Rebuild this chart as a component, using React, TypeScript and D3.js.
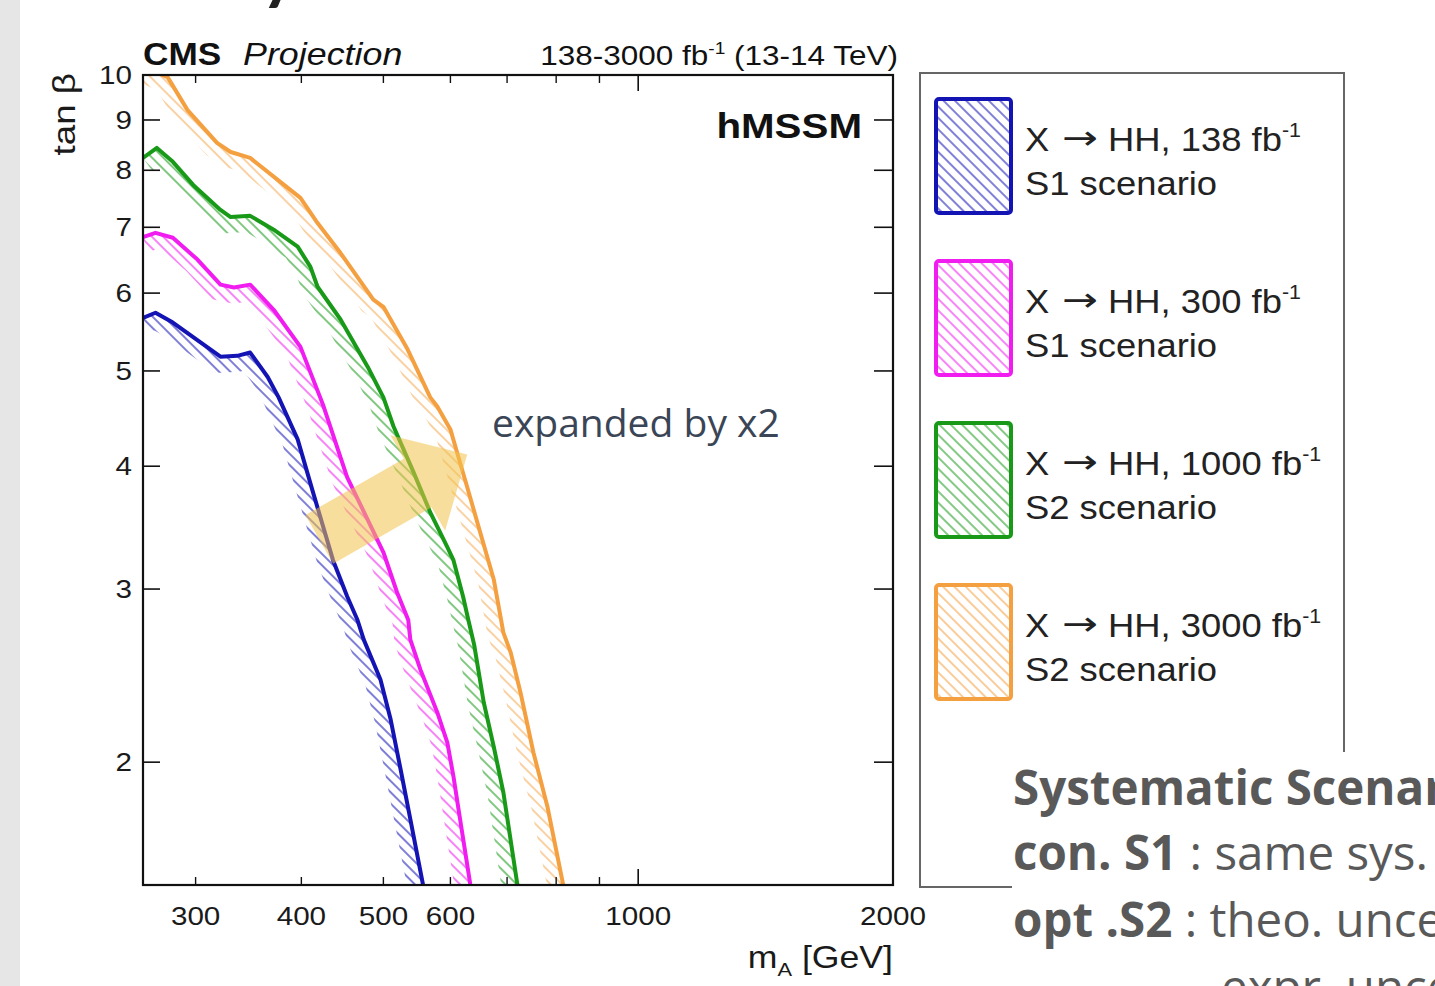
import React from "react";
import * as d3 from "d3";

// ---- data ----
const massTicksLabeled = [300, 400, 500, 600, 1000, 2000];
const massTicksMinor = [300, 400, 500, 600, 700, 800, 900];
const massTicksMajor = [1000];
const tanbTicks = [2, 3, 4, 5, 6, 7, 8, 9, 10];

const mA_138 = [260, 269, 282, 321, 336, 348, 365, 376, 396, 413, 436, 453, 466, 474, 496, 510, 524, 538, 557];
const tb_138 = [5.66, 5.73, 5.6, 5.17, 5.18, 5.22, 4.93, 4.7, 4.26, 3.76, 3.21, 2.95, 2.79, 2.665, 2.427, 2.21, 1.966, 1.75, 1.5];

const mA_300 = [260, 269, 282, 301.5, 321, 333, 348, 371, 399, 421, 425, 453, 479, 500, 519, 535, 538, 553, 579, 595, 605, 616, 633.5];
const tb_300 = [6.84, 6.91, 6.83, 6.49, 6.12, 6.08, 6.12, 5.77, 5.29, 4.7, 4.6, 3.9, 3.53, 3.27, 2.976, 2.79, 2.665, 2.484, 2.247, 2.094, 1.934, 1.75, 1.5];

const mA_1000 = [260, 270, 282, 298, 321, 330, 348, 371, 396, 410, 418, 445, 479, 500, 514, 543, 568, 595, 605, 621, 630, 640, 657, 675, 693, 720];
const tb_1000 = [8.235, 8.43, 8.16, 7.73, 7.29, 7.17, 7.19, 6.96, 6.69, 6.38, 6.09, 5.64, 5.05, 4.7, 4.39, 3.94, 3.59, 3.31, 3.21, 2.948, 2.79, 2.634, 2.3, 2.075, 1.863, 1.5];

const mA_3000 = [260, 278, 293.5, 318, 330, 348, 378, 399, 418, 445, 466, 486.5, 500, 534, 568, 579, 600, 611, 628, 651, 675, 693, 707, 726, 752, 781, 815.5];
const tb_3000 = [10.2, 9.95, 9.21, 8.53, 8.35, 8.235, 7.78, 7.5, 7.07, 6.59, 6.23, 5.91, 5.81, 5.26, 4.7, 4.6, 4.36, 4.13, 3.81, 3.42, 3.07, 2.709, 2.585, 2.355, 2.046, 1.804, 1.5];

const seriesLumi = ["138", "300", "1000", "3000"];
const seriesScenario = ["S1", "S1", "S2", "S2"];
const seriesColors = ["#1414b4", "#f01cf0", "#189a18", "#f4a040"];
const seriesMass = [mA_138, mA_300, mA_1000, mA_3000];
const seriesTanb = [tb_138, tb_300, tb_1000, tb_3000];

// annotation arrow (data coordinates of tail centre and tip)
const arrowTail = [420, 3.37];
const arrowTip = [628, 4.11];

// ---- layout ----
const W = 1435;
const H = 986;
const PL = 143, PR = 893, PT = 75, PB = 885;
const plotFont = "'Liberation Sans', Arial, Helvetica, sans-serif";
const SX = 1.14; // horizontal stretch of the reference's plot lettering

const x = d3.scaleLog().domain([260, 2000]).range([PL, PR]);
const y = d3.scaleLog().domain([1.5, 10]).range([PB, PT]);

function bandPolygon(pts: [number, number][], w: number): string {
  const n = pts.length;
  const segN: [number, number][] = [];
  for (let i = 0; i < n - 1; i++) {
    const dx = pts[i + 1][0] - pts[i][0];
    const dy = pts[i + 1][1] - pts[i][1];
    const l = Math.hypot(dx, dy) || 1;
    segN.push([-dy / l, dx / l]);
  }
  const off: [number, number][] = [];
  for (let i = 0; i < n; i++) {
    let m: [number, number];
    let ref: [number, number];
    if (i === 0) { m = segN[0]; ref = segN[0]; }
    else if (i === n - 1) { m = segN[n - 2]; ref = segN[n - 2]; }
    else {
      const a = segN[i - 1], b = segN[i];
      const sx = a[0] + b[0], sy = a[1] + b[1];
      const l = Math.hypot(sx, sy) || 1;
      m = [sx / l, sy / l];
      ref = b;
    }
    const d = Math.max(0.5, m[0] * ref[0] + m[1] * ref[1]);
    off.push([pts[i][0] + (m[0] * w) / d, pts[i][1] + (m[1] * w) / d]);
  }
  const all = pts.concat(off.reverse());
  return "M" + all.map((p) => p[0].toFixed(2) + "," + p[1].toFixed(2)).join("L") + "Z";
}

function arrowPolygon(): string {
  const t = [x(arrowTail[0]), y(arrowTail[1])];
  const h = [x(arrowTip[0]), y(arrowTip[1])];
  const dx = h[0] - t[0], dy = h[1] - t[1];
  const L = Math.hypot(dx, dy);
  const ux = dx / L, uy = dy / L;
  const px = -uy, py = ux;
  const sw = 28, hw = 55, hl = 57;
  const bx = h[0] - ux * hl, by = h[1] - uy * hl;
  const p = [
    [t[0] + px * sw, t[1] + py * sw],
    [bx + px * sw, by + py * sw],
    [bx + px * hw, by + py * hw],
    [h[0], h[1]],
    [bx - px * hw, by - py * hw],
    [bx - px * sw, by - py * sw],
    [t[0] - px * sw, t[1] - py * sw],
  ];
  return "M" + p.map((q) => q[0].toFixed(1) + "," + q[1].toFixed(1)).join("L") + "Z";
}

function SText(props: any) {
  const { x: tx, y: ty, sx = SX, rotate = 0, children, ...rest } = props;
  return (
    <text transform={`translate(${tx},${ty}) rotate(${rotate}) scale(${sx},1)`} fontFamily={plotFont} fill="#1a1a1a" {...rest}>
      {children}
    </text>
  );
}

export default function App() {
  const line = d3.line<[number, number]>().x((d) => d[0]).y((d) => d[1]);
  const series = seriesMass.map((ms, i) => {
    const pts: [number, number][] = ms.map((m, j) => [x(m), y(seriesTanb[i][j])]);
    return { pts, color: seriesColors[i], lumi: seriesLumi[i], scen: seriesScenario[i] };
  });
  const legendTop0 = 99;
  const legendStep = 162;

  return (
    <div style={{ position: "absolute", left: 0, top: 0, width: W, height: H, overflow: "hidden", background: "#fff" }}>
      <svg width={W} height={H} viewBox={`0 0 ${W} ${H}`} style={{ display: "block" }}>
        <defs>
          {seriesColors.map((c, i) => (
            <pattern key={"p" + i} id={"hatch" + i} patternUnits="userSpaceOnUse" width={8} height={8} patternTransform="rotate(45)">
              <line x1={0} y1={4} x2={8} y2={4} stroke={c} strokeWidth={1.3} opacity={i === 3 ? 0.75 : 0.85} />
            </pattern>
          ))}
          {seriesColors.map((c, i) => (
            <pattern key={"l" + i} id={"lhatch" + i} patternUnits="userSpaceOnUse" width={8} height={8} patternTransform="rotate(45)">
              <line x1={0} y1={4} x2={8} y2={4} stroke={c} strokeWidth={1.2} opacity={0.9} />
            </pattern>
          ))}
          <clipPath id="plotclip">
            <rect x={PL} y={PT} width={PR - PL} height={PB - PT} />
          </clipPath>
        </defs>

        <rect x={0} y={0} width={W} height={H} fill="#fff" />
        <rect x={0} y={0} width={20} height={H} fill="#e6e6e6" />
        <text x={262} y={-2} fontFamily="Lato, sans-serif" fontWeight={900} fontSize={62} fill="#222">y</text>

        {/* bands and lines */}
        <g clipPath="url(#plotclip)">
          {series.map((s, i) => (
            <path key={"b" + i} d={bandPolygon(s.pts, 16)} fill={`url(#hatch${i})`} stroke="none" />
          ))}
          {series.map((s, i) => (
            <path key={"c" + i} d={line(s.pts) || ""} fill="none" stroke={s.color} strokeWidth={4} strokeLinejoin="round" strokeLinecap="round" />
          ))}
        </g>

        {/* frame */}
        <rect x={PL} y={PT} width={PR - PL} height={PB - PT} fill="none" stroke="#111" strokeWidth={2.2} />

        {/* y ticks */}
        {tanbTicks.map((t) => (
          <g key={"yt" + t}>
            {t < 10 && <line x1={PL} x2={PL + 17} y1={y(t)} y2={y(t)} stroke="#111" strokeWidth={1.6} />}
            {t < 10 && <line x1={PR - 19} x2={PR} y1={y(t)} y2={y(t)} stroke="#111" strokeWidth={1.6} />}
            <SText x={132} y={y(t)} dy="0.35em" textAnchor="end" fontSize={26}>{t}</SText>
          </g>
        ))}

        {/* x ticks */}
        {massTicksMinor.map((m) => (
          <g key={"xm" + m}>
            <line x1={x(m)} x2={x(m)} y1={PB} y2={PB - 8} stroke="#111" strokeWidth={1.4} />
            <line x1={x(m)} x2={x(m)} y1={PT} y2={PT + 8} stroke="#111" strokeWidth={1.4} />
          </g>
        ))}
        {massTicksMajor.map((m) => (
          <g key={"xM" + m}>
            <line x1={x(m)} x2={x(m)} y1={PB} y2={PB - 16} stroke="#111" strokeWidth={1.6} />
            <line x1={x(m)} x2={x(m)} y1={PT} y2={PT + 16} stroke="#111" strokeWidth={1.6} />
          </g>
        ))}
        {massTicksLabeled.map((m) => (
          <SText key={"xl" + m} x={x(m)} y={925} textAnchor="middle" fontSize={26}>{m}</SText>
        ))}

        {/* axis titles */}
        <SText x={PR} y={968} sx={1.15} textAnchor="end" fontSize={31}>
          m<tspan fontSize={19} dy={8}>A</tspan><tspan dy={-8}> [GeV]</tspan>
        </SText>
        <SText x={75} y={73} rotate={-90} sx={1.15} textAnchor="end" fontSize={32}>tan β</SText>

        {/* header */}
        <SText x={PL} y={65} sx={1.1} fontSize={32} fontWeight="bold" fill="#111">CMS</SText>
        <SText x={243} y={65} sx={1.12} fontSize={32} fontStyle="italic" fill="#111">Projection</SText>
        <SText x={898} y={65} sx={1.125} textAnchor="end" fontSize={28} fill="#111">
          138-3000 fb<tspan fontSize={17} dy={-11}>-1</tspan><tspan dy={11}> (13-14 TeV)</tspan>
        </SText>
        <SText x={862} y={138} sx={1.12} textAnchor="end" fontSize={36} fontWeight="bold" fill="#111">hMSSM</SText>

        {/* legend */}
        <rect x={920} y={73} width={424} height={814} fill="#fff" stroke="#666" strokeWidth={2} />
        {series.map((s, i) => {
          const top = legendTop0 + i * legendStep;
          return (
            <g key={"lg" + i}>
              <rect x={936} y={top} width={75} height={114} rx={3} fill={`url(#lhatch${i})`} stroke={s.color} strokeWidth={4} />
              <SText x={1025} y={top + 52} sx={1.07} fontSize={34} fill="#222">X</SText>
              <SText x={1062} y={top + 50} sx={1.3} fontSize={33} fontFamily="'DejaVu Sans', sans-serif" fill="#222">→</SText>
              <SText x={1108} y={top + 52} sx={1.07} fontSize={34} fill="#222">
                HH, {s.lumi} fb<tspan fontSize={20} dy={-14}>-1</tspan>
              </SText>
              <SText x={1025} y={top + 96} sx={1.07} fontSize={34} fill="#222">{s.scen} scenario</SText>
            </g>
          );
        })}

        {/* slide overlays */}
        <path d={arrowPolygon()} fill="#f3c24a" opacity={0.55} />
        <text x={492} y={437} fontFamily="'Open Sans', sans-serif" fontSize={39} fill="#3a4556">expanded by x2</text>

        <rect x={1012} y={752} width={W - 1012} height={H - 752} fill="#fff" />
        <g fontFamily="'Open Sans', Lato, sans-serif" fontSize={47.5} fill="#595959">
          <text x={1013} y={805} fontWeight="bold">Systematic Scenarios</text>
          <text x={1013} y={870}><tspan fontWeight="bold">con. S1</tspan> : same sys. as Run 2</text>
          <text x={1013} y={937}><tspan fontWeight="bold">opt .S2</tspan> : theo. uncert. halved,</text>
          <text x={1221} y={1004}>expr. uncert.</text>
        </g>
      </svg>
    </div>
  );
}
